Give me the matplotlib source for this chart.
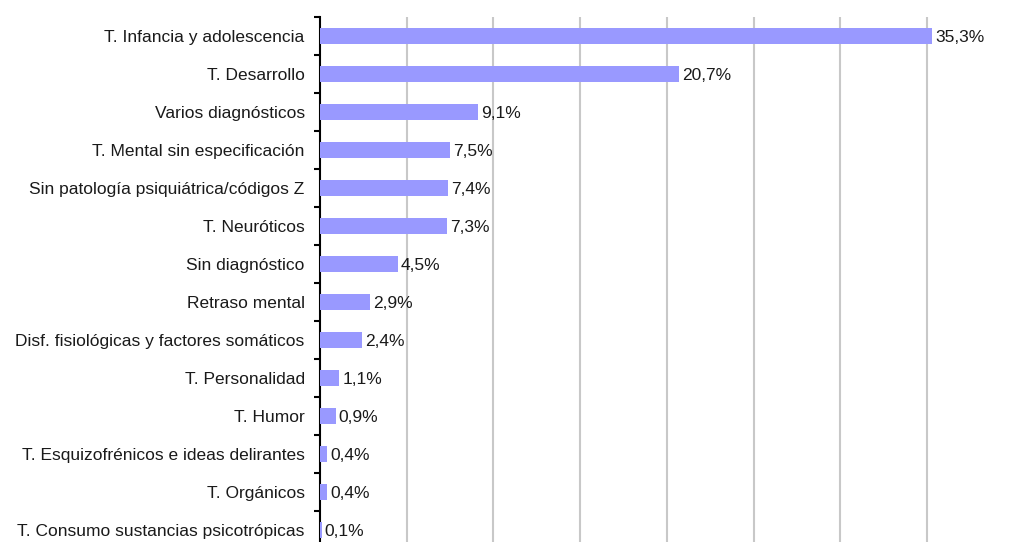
import matplotlib
matplotlib.use("Agg")
import matplotlib.pyplot as plt
import numpy as np

categories = [
    "T. Infancia y adolescencia",
    "T. Desarrollo",
    "Varios diagnósticos",
    "T. Mental sin especificación",
    "Sin patología psiquiátrica/códigos Z",
    "T. Neuróticos",
    "Sin diagnóstico",
    "Retraso mental",
    "Disf. fisiológicas y factores somáticos",
    "T. Personalidad",
    "T. Humor",
    "T. Esquizofrénicos e ideas delirantes",
    "T. Orgánicos",
    "T. Consumo sustancias psicotrópicas",
]
values = [35.3, 20.7, 9.1, 7.5, 7.4, 7.3, 4.5, 2.9, 2.4, 1.1, 0.9, 0.4, 0.4, 0.1]
value_labels = ["35,3%", "20,7%", "9,1%", "7,5%", "7,4%", "7,3%", "4,5%",
                "2,9%", "2,4%", "1,1%", "0,9%", "0,4%", "0,4%", "0,1%"]
grid_ticks = [5, 10, 15, 20, 25, 30, 35, 40]

plt.rcParams['font.family'] = ['Liberation Sans', 'DejaVu Sans']

W, H = 1010, 542
fig = plt.figure(figsize=(W / 100, H / 100), dpi=100)
left_px, top_px = 320, 17
row_px = 38.0
right_px = 320 + 40 * (927 - 320) / 35
ax = fig.add_axes([left_px / W, 1 - (top_px + row_px * len(categories)) / H,
                   (right_px - left_px) / W, row_px * len(categories) / H])

y = np.arange(len(categories))
ax.barh(y, values, height=0.4, color="#9999FF", zorder=3)
for yi, v, lab in zip(y, values, value_labels):
    ax.annotate(lab, (v, yi), xytext=(2.2, 0), textcoords="offset points",
                va="center_baseline", ha="left", fontsize=12.5, color="#1a1a1a", zorder=4)

ax.set_xlim(0, 40)
ax.set_ylim(len(categories) - 0.5, -0.5)
ax.set_xticks(grid_ticks)
ax.tick_params(axis="x", length=0, labelbottom=False)
ax.xaxis.grid(True, color="#c8c8c8", linewidth=1.5, zorder=0)
ax.set_axisbelow(True)

ax.set_yticks(y)
ax.set_yticklabels(categories, fontsize=12.5, color="#1a1a1a")
ax.set_yticks(np.arange(-0.5, len(categories) + 0.5, 1), minor=True)
ax.tick_params(axis="y", which="major", length=0, pad=11)
ax.tick_params(axis="y", which="minor", length=4, width=1.5, color="black", direction="out")

for s in ["top", "right", "bottom"]:
    ax.spines[s].set_visible(False)
ax.spines["left"].set_color("black")
ax.spines["left"].set_linewidth(1.5)

fig.savefig("out.png", dpi=100)
